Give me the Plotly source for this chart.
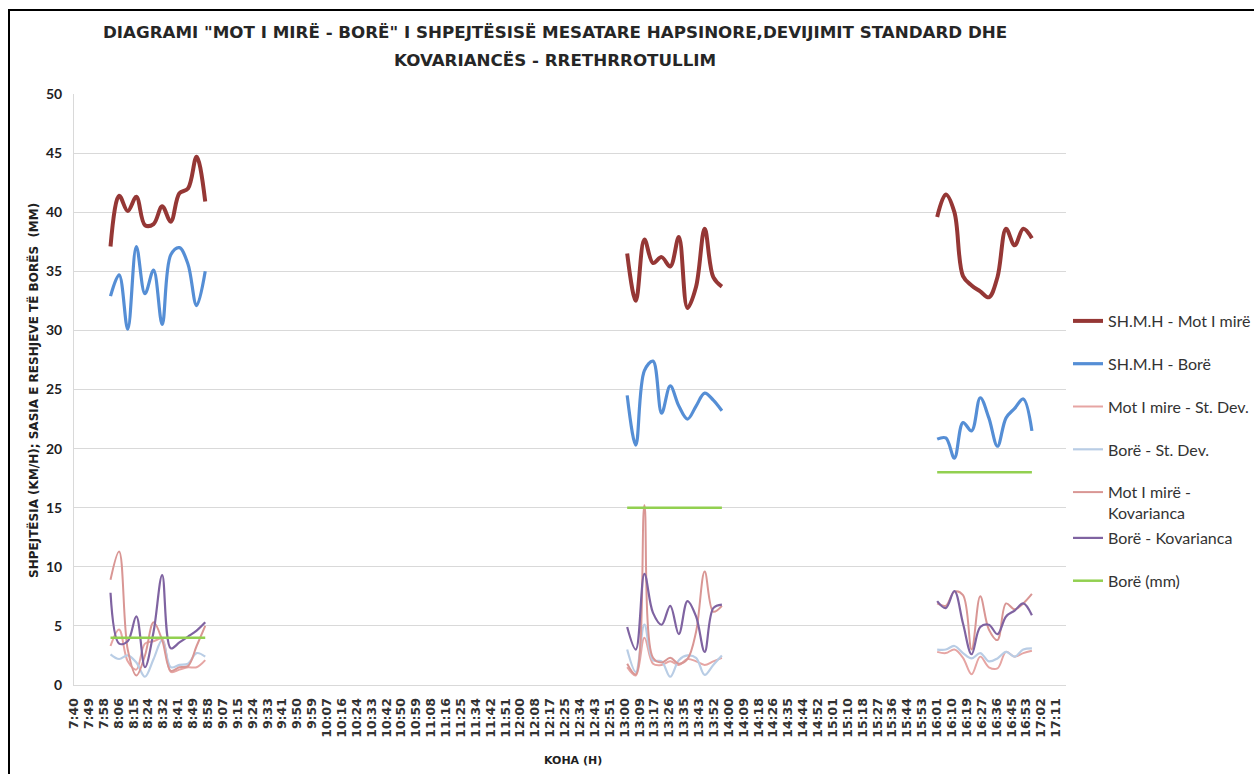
import plotly.graph_objects as go

# Reading times (5-minute steps) of the three measurement sessions
morning_times = ["08:02", "08:07", "08:12", "08:17", "08:22", "08:27",
                 "08:32", "08:37", "08:42", "08:47", "08:52", "08:57"]
midday_times = ["13:02", "13:07", "13:12", "13:17", "13:22", "13:27",
                "13:32", "13:37", "13:42", "13:47", "13:52", "13:57"]
afternoon_times = ["16:02", "16:07", "16:12", "16:17", "16:22", "16:27",
                   "16:32", "16:37", "16:42", "16:47", "16:52", "16:57"]

# Series values: morning (12), midday (12), afternoon (12)
shmh_mot_mire = [37.1, 41.4, 40.1, 41.3, 38.9, 39.0, 40.5, 39.2, 41.6, 42.0, 44.7, 40.9,
                 36.5, 32.5, 37.7, 35.7, 36.2, 35.4, 37.9, 31.9, 33.7, 38.6, 34.5, 33.7,
                 39.6, 41.5, 40.0, 34.6, 33.8, 33.3, 32.8, 34.5, 38.6, 37.2, 38.6, 37.8]
shmh_bore = [32.9, 34.7, 30.1, 37.1, 33.1, 35.1, 30.5, 36.4, 37.0, 35.6, 32.1, 35.0,
             24.5, 20.3, 26.6, 27.4, 23.0, 25.3, 23.6, 22.5, 23.6, 24.7, 24.1, 23.2,
             20.8, 20.9, 19.2, 22.2, 21.5, 24.3, 22.6, 20.2, 22.6, 23.4, 24.2, 21.5]
mot_mire_st_dev = [3.3, 4.7, 2.0, 1.3, 3.5, 3.7, 3.9, 1.1, 1.3, 1.5, 1.5, 2.1,
                   1.5, 0.8, 4.0, 1.8, 1.7, 2.0, 1.7, 2.2, 2.0, 1.7, 2.0, 2.3,
                   2.8, 2.7, 3.0, 2.3, 0.9, 2.4, 1.5, 1.4, 2.8, 2.4, 2.7, 2.9]
bore_st_dev = [2.6, 2.2, 2.5, 1.9, 0.7, 2.2, 3.8, 1.5, 1.7, 1.8, 2.7, 2.4,
               3.0, 1.1, 5.1, 2.1, 2.0, 0.7, 2.1, 2.5, 2.3, 0.85, 1.7, 2.5,
               3.0, 3.0, 3.3, 2.7, 2.25, 2.7, 2.0, 2.25, 2.8, 2.4, 3.0, 3.1]
mot_mire_kovarianca = [8.9, 11.3, 3.0, 0.8, 2.5, 5.3, 3.8, 1.2, 1.5, 1.6, 3.3, 5.0,
                       1.8, 0.9, 15.2, 2.3, 1.9, 2.3, 1.8, 2.2, 4.5, 9.6, 6.2, 6.7,
                       6.9, 6.7, 7.9, 7.6, 3.0, 7.5, 4.7, 3.8, 6.9, 6.4, 6.9, 7.7]
bore_kovarianca = [7.8, 3.5, 3.7, 5.8, 1.5, 4.5, 9.3, 3.1, 3.6, 4.1, 4.6, 5.3,
                   4.9, 3.0, 9.4, 6.1, 5.1, 6.7, 4.3, 7.1, 5.8, 2.8, 6.5, 6.8,
                   7.1, 6.5, 7.95, 5.2, 2.6, 4.9, 5.1, 4.3, 5.8, 6.3, 6.9, 5.9]
bore_mm = [4.0] * 12 + [15.0] * 12 + [18.0] * 12

sessions = [morning_times, midday_times, afternoon_times]
DAY = "2024-03-01 "

# Figure geometry (pixels)
W, H = 1254, 774
PL, PR, PT, PB = 74, 1066, 94, 685


def px_x(px):
    return (px - PL) / (PR - PL)


def px_y(py):
    return (PB - py) / (PB - PT)


def with_gaps(values):
    """Join the sessions into one line, broken between sessions."""
    xs, ys, i = [], [], 0
    for sess in sessions:
        for t in sess:
            xs.append(DAY + t)
            ys.append(values[i])
            i += 1
        xs.append(None)
        ys.append(None)
    return xs, ys


series = [
    ("SH.M.H - Mot I mirë", shmh_mot_mire, "#953735", 4.0, "legend"),
    ("SH.M.H - Borë", shmh_bore, "#558ED5", 3.2, "legend"),
    ("Mot I mire - St. Dev.", mot_mire_st_dev, "#E6A5A3", 2.0, "legend"),
    ("Borë - St. Dev.", bore_st_dev, "#B9CDE5", 2.2, "legend"),
    ("Mot I mirë -<br>Kovarianca", mot_mire_kovarianca, "#D99694", 2.0, "legend"),
    ("Borë - Kovarianca", bore_kovarianca, "#7F63A1", 2.2, "legend2"),
    ("Borë (mm)", bore_mm, "#92D050", 2.5, "legend2"),
]

fig = go.Figure()
for name, vals, color, width, leg in series:
    xs, ys = with_gaps(vals)
    fig.add_trace(go.Scatter(
        x=xs, y=ys, name=name, mode="lines",
        line=dict(color=color, width=width, shape="spline", smoothing=1.0),
        connectgaps=False, legend=leg, legendgroup=name,
    ))

legend_common = dict(
    xanchor="left", yanchor="top", traceorder="grouped", tracegroupgap=19,
    font=dict(family="Lato", size=16, color="#333333"), valign="top",
    bgcolor="rgba(0,0,0,0)", itemwidth=30,
)

fig.update_layout(
    width=W, height=H,
    margin=dict(l=PL, r=W - PR, t=PT, b=H - PB, autoexpand=False),
    paper_bgcolor="white", plot_bgcolor="white",
    legend=dict(x=px_x(1068), y=px_y(304), **legend_common),
    legend2=dict(x=px_x(1068), y=px_y(521), **legend_common),
    xaxis=dict(
        type="date",
        range=[DAY + "07:40:48", DAY + "17:16:48"],
        tickmode="linear", tick0=DAY + "07:40:48", dtick=8.64 * 60 * 1000,
        tickformat="%-H:%M", tickangle=-90,
        tickfont=dict(family="DejaVu Sans", size=12.5, color="#333333", weight="bold"),
        showgrid=False, showline=True, linecolor="#D9D9D9", linewidth=1,
        ticks="", zeroline=False, ticklabelstandoff=7,
    ),
    yaxis=dict(
        range=[0, 50], tickmode="linear", tick0=0, dtick=5,
        tickfont=dict(family="Lato", size=14, color="#1F1F1F", weight="bold"),
        showgrid=True, gridcolor="#D9D9D9", gridwidth=1,
        showline=True, linecolor="#D9D9D9", linewidth=1,
        ticks="", zeroline=False, ticklabelstandoff=8,
    ),
    annotations=[
        dict(text='DIAGRAMI "MOT I MIRË - BORË" I SHPEJTËSISË MESATARE HAPSINORE,DEVIJIMIT STANDARD DHE',
             x=px_x(555), y=px_y(32), xref="paper", yref="paper",
             xanchor="center", yanchor="middle", showarrow=False,
             font=dict(family="DejaVu Sans", size=16.7, color="#262626", weight="bold")),
        dict(text="KOVARIANCËS - RRETHRROTULLIM",
             x=px_x(555), y=px_y(60), xref="paper", yref="paper",
             xanchor="center", yanchor="middle", showarrow=False,
             font=dict(family="DejaVu Sans", size=16.7, color="#262626", weight="bold")),
        dict(text="SHPEJTËSIA (KM/H); SASIA E RESHJEVE TË BORËS  (MM)",
             x=px_x(33), y=px_y(391), xref="paper", yref="paper",
             xanchor="center", yanchor="middle", showarrow=False, textangle=-90,
             font=dict(family="DejaVu Sans", size=12, color="#1F1F1F", weight="bold")),
        dict(text="KOHA (H)",
             x=px_x(573), y=px_y(760), xref="paper", yref="paper",
             xanchor="center", yanchor="middle", showarrow=False,
             font=dict(family="DejaVu Sans", size=11, color="#1F1F1F", weight="bold")),
    ],
    shapes=[
        dict(type="rect", xref="paper", yref="paper",
             x0=px_x(9), x1=px_x(1264), y0=px_y(790), y1=px_y(10),
             line=dict(color="black", width=2), fillcolor="rgba(0,0,0,0)"),
    ],
)

fig.write_html("out.html")
